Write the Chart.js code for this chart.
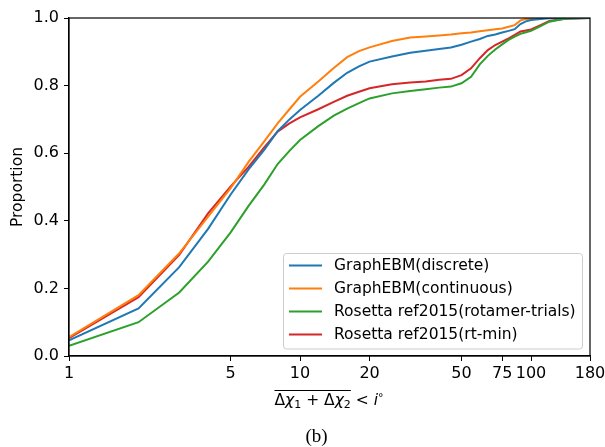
<!DOCTYPE html>
<html lang="en">
<head>
  <meta charset="UTF-8">
  <title>Proportion vs angle error</title>
  <script src="https://cdn.jsdelivr.net/npm/chart.js"></script>
  <style>
    html, body { margin: 0; padding: 0; background: #fff; }
    canvas { display: block; }
  </style>
</head>
<body>
<canvas id="chart" width="605" height="447"></canvas>

<script>
  const degrees = [1, 2, 3, 4, 5, 6, 7, 8, 9, 10, 12, 14, 16, 18, 20, 25, 30, 35, 40, 45,
                   50, 55, 60, 65, 70, 75, 80, 85, 90, 95, 100, 110, 120, 140, 180];

  const seriesLabels = ["GraphEBM(discrete)", "GraphEBM(continuous)",
                        "Rosetta ref2015(rotamer-trials)", "Rosetta ref2015(rt-min)"];

  const ebmDiscrete = [.046, .141, .263, .376, .477, .553, .61, .665, .70, .728,
                       .770, .808, .838, .857, .871, .886, .897, .903, .908, .913,
                       .921, .93, .938, .947, .951, .957, .962, .967, .982, .99,
                       .994, .997, .999, 1, 1];
  const ebmContinuous = [.056, .180, .304, .412, .496, .575, .635, .688, .73, .767,
                         .812, .852, .884, .902, .913, .932, .942, .945, .948, .951,
                         .955, .957, .961, .964, .967, .969, .974, .979, .993, .997,
                         .998, 1, 1, 1, 1];
  const rosettaTrials = [.03, .10, .188, .279, .365, .445, .507, .568, .607, .639,
                         .68, .711, .732, .748, .762, .777, .784, .789, .794, .797,
                         .807, .826, .863, .888, .907, .922, .935, .945, .953, .958,
                         .962, .976, .989, .998, 1];
  const rosettaMin = [.053, .174, .299, .422, .501, .56, .617, .664, .688, .706,
                      .73, .752, .77, .782, .792, .804, .809, .812, .817, .82,
                      .831, .851, .881, .905, .92, .93, .94, .95, .96, .963,
                      .966, .979, .991, .998, 1];

  const xTicks = [1, 5, 10, 20, 50, 75, 100, 180];
  const yTicks = [0, 0.2, 0.4, 0.6, 0.8, 1.0];

  const colors = ["#1f77b4", "#ff7f0e", "#2ca02c", "#d62728"];
  const allSeries = [ebmDiscrete, ebmContinuous, rosettaTrials, rosettaMin];

  const datasets = allSeries.map((vals, k) => ({
    label: seriesLabels[k],
    data: degrees.map((d, j) => ({ x: d, y: vals[j] })),
    borderColor: colors[k],
    backgroundColor: colors[k],
    borderWidth: 2,
    pointRadius: 0,
    tension: 0,
    fill: false
  }));

  const tickFont = { family: "DejaVu Sans", size: 16 };

  // frame, legend, axis titles and caption drawn like matplotlib
  const extras = {
    id: "extras",
    afterDraw(chart) {
      const c = chart.ctx;
      const a = chart.chartArea;
      c.save();

      // box around the plot
      c.strokeStyle = "#000";
      c.lineWidth = 1.2;
      c.strokeRect(a.left, a.top, a.right - a.left, a.bottom - a.top);

      // legend
      const bx = 283.5, by = 253.5, bw = 299, bh = 95.5;
      c.beginPath();
      c.roundRect(bx, by, bw, bh, 3);
      c.fillStyle = "rgba(255,255,255,0.8)";
      c.fill();
      c.strokeStyle = "#cccccc";
      c.lineWidth = 1;
      c.stroke();
      c.font = "15.5px 'DejaVu Sans'";
      c.textBaseline = "middle";
      c.textAlign = "left";
      chart.data.datasets.forEach((ds, k) => {
        const y = 265.5 + k * 23;
        c.strokeStyle = ds.borderColor;
        c.lineWidth = 2;
        c.beginPath();
        c.moveTo(289, y);
        c.lineTo(322, y);
        c.stroke();
        c.fillStyle = "#000";
        c.fillText(ds.label, 334, y);
      });

      // y axis title
      c.save();
      c.translate(18, 187);
      c.rotate(-Math.PI / 2);
      c.textAlign = "center";
      c.textBaseline = "middle";
      c.font = "15.5px 'DejaVu Sans'";
      c.fillText("Proportion", 0, 0);
      c.restore();

      // x axis title: overline(Δχ1 + Δχ2) < i°
      const fs = 15.5;
      const norm = fs + "px 'DejaVu Sans'";
      const ital = "italic " + fs + "px 'DejaVu Sans'";
      const sub = Math.round(fs * 0.7) + "px 'DejaVu Sans'";
      const parts = [
        { t: "Δ", f: norm, dy: 0 },
        { t: "χ", f: ital, dy: 0 },
        { t: "1", f: sub, dy: 3 },
        { t: " + ", f: norm, dy: 0 },
        { t: "Δ", f: norm, dy: 0 },
        { t: "χ", f: ital, dy: 0 },
        { t: "2", f: sub, dy: 3 },
        { t: " < ", f: norm, dy: 0 },
        { t: "i", f: ital, dy: 0 },
        { t: "°", f: sub, dy: -4 }
      ];
      let total = 0;
      parts.forEach(p => { c.font = p.f; p.w = c.measureText(p.t).width; total += p.w; });
      const startX = 329 - total / 2;
      let x = startX;
      const base = 405;
      c.textBaseline = "alphabetic";
      c.textAlign = "left";
      c.fillStyle = "#000";
      let overEnd = x;
      parts.forEach((p, k) => {
        c.font = p.f;
        c.fillText(p.t, x, base + p.dy);
        x += p.w;
        if (k === 6) overEnd = x;
      });
      c.strokeStyle = "#000";
      c.lineWidth = 1;
      c.beginPath();
      c.moveTo(startX, 390.5);
      c.lineTo(overEnd, 390.5);
      c.stroke();

      // caption
      c.font = "19px 'Liberation Serif'";
      c.textAlign = "center";
      c.textBaseline = "middle";
      c.fillText("(b)", 316.5, 437);

      c.restore();
    }
  };

  new Chart(document.getElementById("chart"), {
    type: "line",
    data: { datasets },
    options: {
      responsive: false,
      animation: false,
      events: [],
      layout: { padding: { top: 18, right: 15, left: 0, bottom: 0 } },
      plugins: { legend: { display: false }, tooltip: { enabled: false } },
      scales: {
        x: {
          type: "logarithmic",
          min: 1,
          max: 180,
          afterBuildTicks: s => { s.ticks = xTicks.map(v => ({ value: v })); },
          afterFit: s => { s.height = 91; s.paddingLeft = 0; s.paddingRight = 0; },
          ticks: {
            color: "#000",
            font: tickFont,
            padding: 3,
            maxRotation: 0,
            autoSkip: false,
            callback: v => String(v)
          },
          grid: { drawOnChartArea: false, drawTicks: true, tickLength: 5, color: "#000" },
          border: { color: "#000", width: 1.2 }
        },
        y: {
          min: 0,
          max: 1,
          afterBuildTicks: s => { s.ticks = yTicks.map(v => ({ value: v })); },
          afterFit: s => { s.width = 69; s.paddingTop = 0; s.paddingBottom = 0; },
          ticks: {
            color: "#000",
            font: tickFont,
            padding: 5,
            callback: v => v.toFixed(1)
          },
          grid: { drawOnChartArea: false, drawTicks: true, tickLength: 5, color: "#000" },
          border: { color: "#000", width: 1.2 }
        }
      }
    },
    plugins: [extras]
  });
</script>
</body>
</html>
